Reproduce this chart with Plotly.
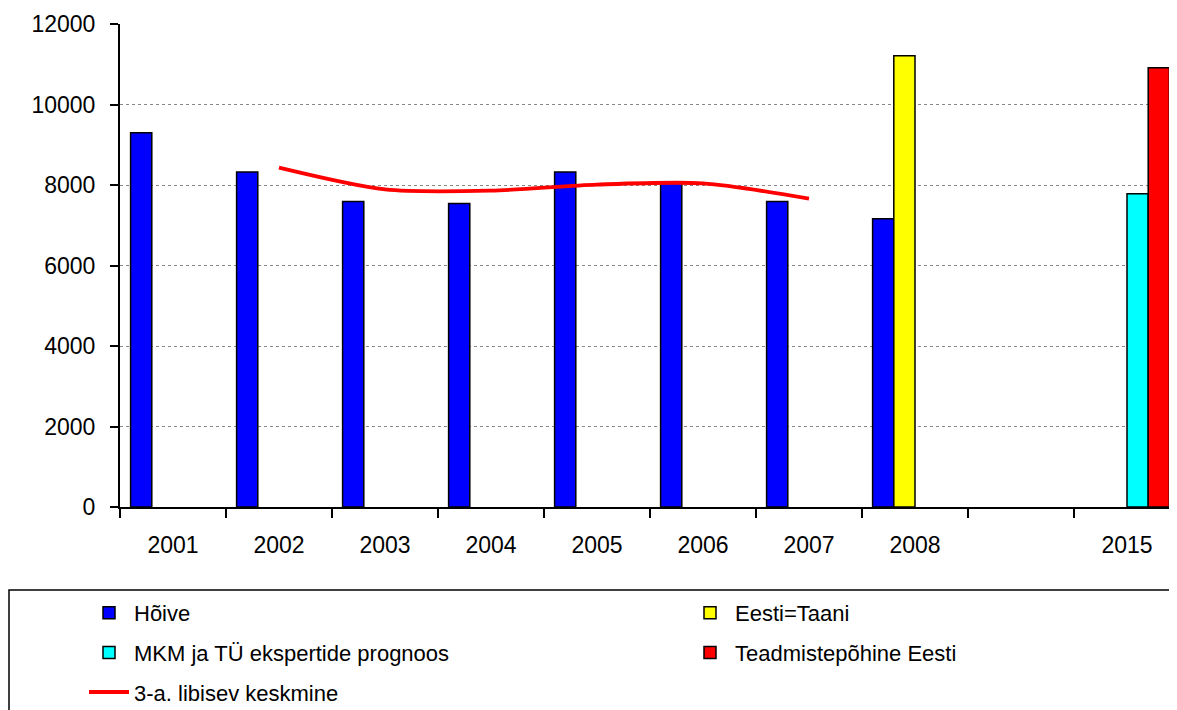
import plotly.graph_objects as go

categories = ["2001", "2002", "2003", "2004", "2005", "2006", "2007", "2008", " ", "2015"]
hoive = [9300, 8320, 7590, 7540, 8320, 8080, 7590, 7160, None, None]
eesti_taani = [None, None, None, None, None, None, None, 11210, None, None]
mkm_tu = [None, None, None, None, None, None, None, None, None, 7780]
teadmiste = [None, None, None, None, None, None, None, None, None, 10910]
ma_x = ["2002", "2003", "2004", "2005", "2006", "2007"]
ma_y = [8430, 7890, 7860, 8010, 8040, 7660]
y_ticks = [0, 2000, 4000, 6000, 8000, 10000, 12000]

FONT = "Liberation Sans, Arial, sans-serif"
FS = 23
LFS = 22
outline = dict(color="black", width=1.5)

# page body has an 8px offset; plot area on screen: x 120..1180, y 24..507
PW, PH = 1060, 483
def px(sx):
    return (sx - 120) / PW
def py(sy):
    return (507 - sy) / PH

fig = go.Figure()
fig.add_trace(go.Bar(name="Hõive", x=categories, y=hoive, legend="legend", legendgroup="a",
                     marker=dict(color="#0000FF", line=outline)))
fig.add_trace(go.Bar(name="Eesti=Taani", x=categories, y=eesti_taani, legend="legend2", legendgroup="b",
                     marker=dict(color="#FFFF00", line=outline)))
fig.add_trace(go.Bar(name="MKM ja TÜ ekspertide prognoos", x=categories, y=mkm_tu, legend="legend", legendgroup="c",
                     marker=dict(color="#00FFFF", line=outline)))
fig.add_trace(go.Bar(name="Teadmistepõhine Eesti", x=categories, y=teadmiste, legend="legend2", legendgroup="d",
                     marker=dict(color="#FF0000", line=outline)))
fig.add_trace(go.Scatter(name="3-a. libisev keskmine", x=ma_x, y=ma_y, mode="lines", legend="legend", legendgroup="e",
                         line=dict(color="#FF0000", width=3.8, shape="spline", smoothing=0.8)))

leg_common = dict(orientation="v", yanchor="top", xanchor="left", traceorder="grouped",
                  font=dict(family=FONT, size=LFS, color="black"), bgcolor="rgba(0,0,0,0)",
                  itemwidth=40, tracegroupgap=8)

fig.update_layout(
    width=1177, height=710,
    margin=dict(l=112, r=5, t=16, b=211, autoexpand=False),
    paper_bgcolor="white", plot_bgcolor="white",
    font=dict(family=FONT, size=FS, color="black"),
    barmode="group", bargap=0.2, bargroupgap=0,
    showlegend=True,
    legend=dict(x=px(84), y=py(592), **leg_common),
    legend2=dict(x=px(685), y=py(592), **leg_common),
    shapes=[dict(type="rect", xref="paper", yref="paper", x0=px(9), x1=px(1200), y0=py(590), y1=py(760),
                 line=dict(color="black", width=1.5), fillcolor="rgba(0,0,0,0)", layer="below")],
)
fig.update_xaxes(type="category", categoryorder="array", categoryarray=categories,
                 range=[-0.5, 9.5], showline=True, linecolor="black", linewidth=2,
                 ticks="outside", tickson="boundaries", ticklen=9, tickwidth=1.5, tickcolor="black",
                 showgrid=False, ticklabelstandoff=16, tickfont=dict(size=FS))
fig.update_yaxes(range=[0, 12000], tickvals=y_ticks, tickformat="d", showline=True, linecolor="black", linewidth=2,
                 ticks="outside", ticklen=8, tickwidth=1.5, tickcolor="black",
                 showgrid=True, gridcolor="#888888", gridwidth=1, griddash="dot",
                 zeroline=False, ticklabelstandoff=10, tickfont=dict(size=FS))

fig.write_html("out.html")
